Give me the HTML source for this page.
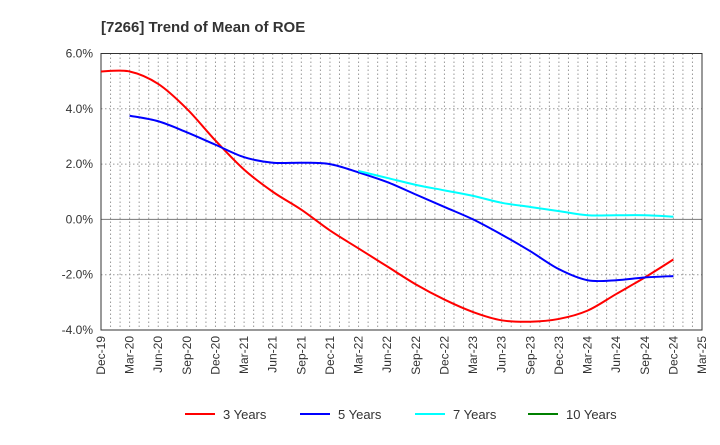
<!DOCTYPE html>
<html><head><meta charset="utf-8"><style>
body{margin:0;background:#fff;font-family:"Liberation Sans",Arial,sans-serif;}
svg text{font-family:"Liberation Sans",Arial,sans-serif;}
</style></head><body>
<svg id="c" width="720" height="440" xmlns="http://www.w3.org/2000/svg">
<text x="101" y="32" font-size="15" font-weight="bold" fill="#333">[7266]  Trend of Mean of ROE</text>
<g id="grid"></g><g id="axes"></g><g id="series"></g><g id="legend"></g>
</svg>
<script>
const categories=["Dec-19","Mar-20","Jun-20","Sep-20","Dec-20","Mar-21","Jun-21","Sep-21","Dec-21","Mar-22","Jun-22","Sep-22","Dec-22","Mar-23","Jun-23","Sep-23","Dec-23","Mar-24","Jun-24","Sep-24","Dec-24","Mar-25"];
const yTicks=[6,4,2,0,-2,-4];
const s3=[5.35,5.35,4.9,4.0,2.85,1.8,1.0,0.35,-0.4,-1.05,-1.7,-2.35,-2.9,-3.35,-3.65,-3.7,-3.6,-3.3,-2.7,-2.1,-1.45];
const s5=[null,3.75,3.55,3.15,2.7,2.25,2.05,2.05,2.0,1.7,1.35,0.9,0.45,0.0,-0.55,-1.15,-1.8,-2.2,-2.2,-2.1,-2.05];
const s7=[null,null,null,null,null,null,null,null,null,1.75,1.5,1.25,1.05,0.85,0.6,0.45,0.3,0.15,0.15,0.15,0.1];
const s10=[];
const L=101,R=702,T=53.5,B=330;
const NS="http://www.w3.org/2000/svg";
const xq=i=>L+i*3*(R-L)/63;
const xm=m=>L+m*(R-L)/63;
const y=v=>T+(6-v)*(B-T)/10;
function mk(tag,attrs,parent){const e=document.createElementNS(NS,tag);for(const k in attrs)e.setAttribute(k,attrs[k]);parent.appendChild(e);return e;}
const grid=document.getElementById('grid'),axes=document.getElementById('axes'),ser=document.getElementById('series'),leg=document.getElementById('legend');
for(let m=1;m<63;m++){const l=mk('line',{x1:xm(m),x2:xm(m),y1:T,y2:B,stroke:'#999','stroke-dasharray':'1.5,2.5','stroke-width':1},grid);

}
yTicks.forEach(v=>{const l=mk('line',{x1:L,x2:R,y1:y(v),y2:y(v),stroke:v===0?'#777':'#999','stroke-dasharray':v===0?'':'1.5,2.5','stroke-width':1},grid);


const t=mk('text',{x:L-8,y:y(v)+4,'text-anchor':'end','font-size':12,fill:'#333'},axes);t.textContent=v.toFixed(1)+'%';

});
const fr=mk('rect',{x:L,y:T,width:R-L,height:B-T,fill:'none',stroke:'#333','stroke-width':1},axes);


categories.forEach((c,i)=>{const x=xq(i);const t=mk('text',{transform:`translate(${x+4},${B+6}) rotate(-90)`,'text-anchor':'end','font-size':12,fill:'#333'},axes);t.textContent=c;

});
function path(arr){const pts=[];arr.forEach((v,i)=>{if(v!==null&&v!==undefined)pts.push([xq(i),y(v)]);});if(pts.length<2)return '';
let d=`M${pts[0][0]},${pts[0][1]}`;for(let i=0;i<pts.length-1;i++){const p0=pts[i-1]||pts[i],p1=pts[i],p2=pts[i+1],p3=pts[i+2]||p2;
d+=` C${p1[0]+(p2[0]-p0[0])/6},${p1[1]+(p2[1]-p0[1])/6} ${p2[0]-(p3[0]-p1[0])/6},${p2[1]-(p3[1]-p1[1])/6} ${p2[0]},${p2[1]}`;}return d;}
const series=[[s3,'#ff0000','3 Years','series-3-years'],[s5,'#0000ff','5 Years','series-5-years'],[s7,'#00ffff','7 Years','series-7-years'],[s10,'#008000','10 Years','series-10-years']];
series.forEach(([a,c,n,dn])=>{const d=path(a);if(d){const p=mk('path',{d:d,fill:'none',stroke:c,'stroke-width':2},ser);

}});
const lx=[185,300,415,528];
series.forEach(([a,c,n,dn],i)=>{const g=mk('g',{},leg);


mk('line',{x1:lx[i],x2:lx[i]+30,y1:414,y2:414,stroke:c,'stroke-width':2},g);
const t=mk('text',{x:lx[i]+38,y:419,'font-size':13,fill:'#333'},g);t.textContent=n;});
</script>
</body></html>
